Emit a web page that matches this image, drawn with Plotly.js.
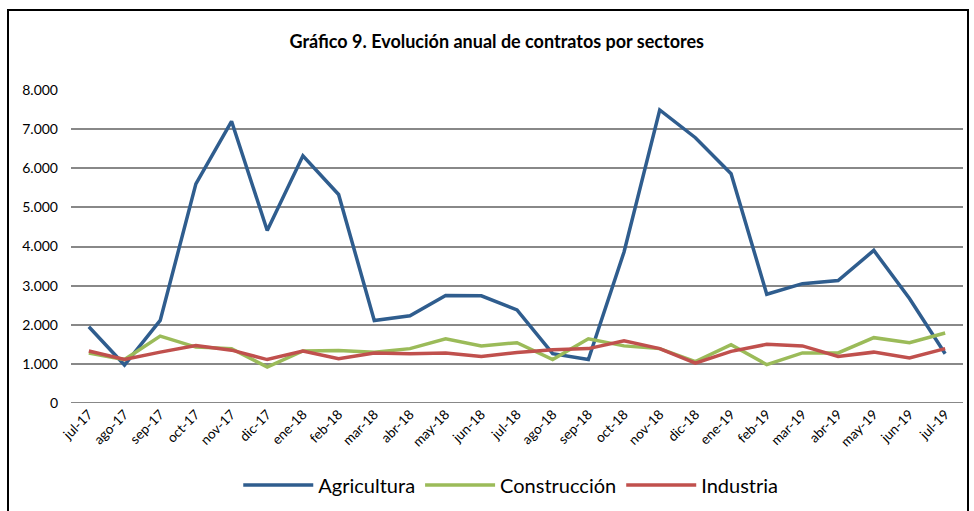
<!DOCTYPE html>
<html>
<head>
<meta charset="utf-8">
<script src="https://cdn.plot.ly/plotly-3.0.1.min.js"></script>
<style>
  body { margin: 0; padding: 0; background: #fff; }
  #wrap { position: relative; width: 974px; height: 511px; }
  #chart { position: absolute; left: 0; top: 0; width: 974px; height: 511px; }
  #frame { position: absolute; left: 7px; top: 9px; width: 958px; height: 510px;
           border-left: 2px solid #000; border-top: 2px solid #000; border-right: 2px solid #000;
           pointer-events: none; }
</style>
</head>
<body>
<div id="wrap">
  <div id="chart"></div>
  <div id="frame"></div>
</div>
<script>
const months = ["jul-17","ago-17","sep-17","oct-17","nov-17","dic-17","ene-18","feb-18","mar-18","abr-18","may-18","jun-18","jul-18","ago-18","sep-18","oct-18","nov-18","dic-18","ene-19","feb-19","mar-19","abr-19","may-19","jun-19","jul-19"];
const agricultura = [1950, 970, 2110, 5600, 7200, 4410, 6320, 5330, 2110, 2230, 2750, 2740, 2380, 1260, 1110, 3860, 7490, 6780, 5860, 2780, 3050, 3130, 3900, 2670, 1260];
const construccion = [1280, 1110, 1710, 1430, 1390, 920, 1330, 1340, 1300, 1390, 1640, 1460, 1540, 1110, 1640, 1460, 1390, 1060, 1490, 980, 1280, 1280, 1670, 1540, 1790];
const industria = [1330, 1110, 1300, 1470, 1350, 1110, 1330, 1130, 1280, 1260, 1280, 1190, 1290, 1360, 1390, 1590, 1390, 1020, 1320, 1500, 1460, 1190, 1300, 1150, 1390];

const fontFam = "Lato, 'Open Sans', sans-serif";
const mk = (name, y, color) => ({
  type: "scatter", mode: "lines", name: name, x: months, y: y,
  line: { color: color, width: 3.5 }
});

const data = [
  mk("Agricultura", agricultura, "#2F5D8E"),
  mk("Construcción", construccion, "#9BBB59"),
  mk("Industria", industria, "#C0504D")
];

const layout = {
  width: 974, height: 511,
  margin: { l: 71, r: 11, t: 90, b: 108, autoexpand: false },
  paper_bgcolor: "#fff", plot_bgcolor: "#fff",
  separators: ",.",
  font: { family: fontFam, color: "#000", size: 13 },
  title: {
    text: "<b>Gráfico 9. Evolución anual de contratos por sectores</b>",
    font: { family: fontFam, size: 18, color: "#000" },
    x: 0.51, xref: "container", xanchor: "center",
    y: 1 - 42/511, yref: "container", yanchor: "middle"
  },
  xaxis: {
    type: "category", range: [-0.5, 24.5], automargin: false,
    tickangle: -45, showgrid: false, zeroline: false, showline: false,
    ticks: "", tickfont: { family: fontFam, size: 13.5, color: "#000" },
    fixedrange: true
  },
  yaxis: {
    range: [0, 8000], dtick: 1000, tick0: 0, tickformat: ",d", automargin: false,
    showgrid: true, gridcolor: "#888888", gridwidth: 2,
    zeroline: false, showline: false, ticks: "",
    ticklabelstandoff: 12,
    tickfont: { family: fontFam, size: 14, color: "#000" },
    fixedrange: true
  },
  shapes: [{
    type: "line", xref: "paper", yref: "y", x0: 0, x1: 1, y0: 0, y1: 0,
    line: { color: "#888888", width: 2 }, layer: "below"
  }],
  showlegend: true,
  legend: {
    orientation: "h", x: 0.493, xanchor: "center", y: -0.262, yanchor: "middle",
    font: { family: fontFam, size: 20, color: "#000" },
    itemwidth: 70, traceorder: "normal", bgcolor: "rgba(0,0,0,0)"
  }
};

Plotly.newPlot("chart", data, layout, { displayModeBar: false, staticPlot: true });
</script>
</body>
</html>
